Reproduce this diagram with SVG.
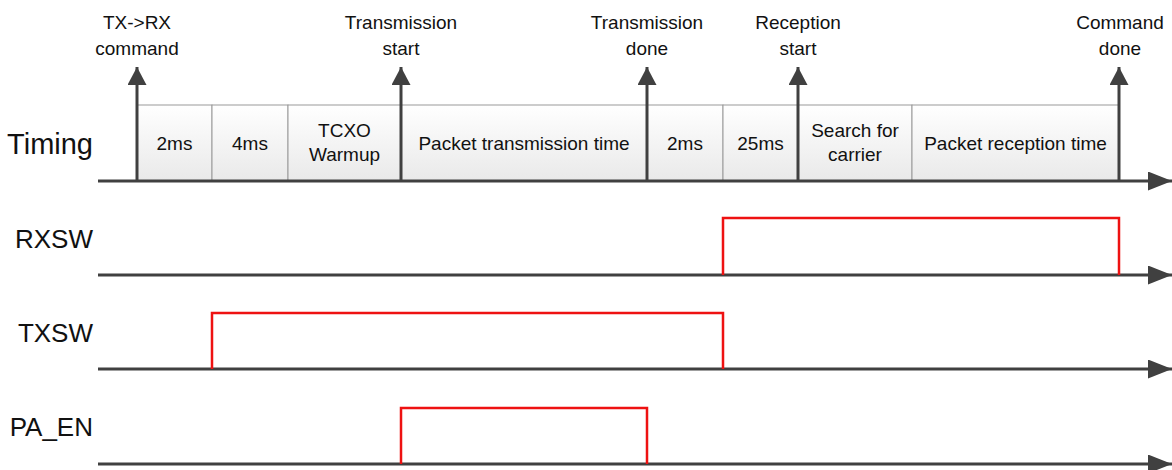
<svg xmlns="http://www.w3.org/2000/svg" width="1172" height="470" viewBox="0 0 1172 470">
<defs>
<linearGradient id="boxg" x1="0" y1="0" x2="0" y2="1">
<stop offset="0" stop-color="#ffffff"/>
<stop offset="1" stop-color="#e9e9e9"/>
</linearGradient>
<marker id="ah" markerUnits="userSpaceOnUse" markerWidth="26" markerHeight="20" refX="24" refY="9.5" orient="auto">
<path d="M0,0 L24,9.5 L0,19 Z" fill="#404040"/>
</marker>
<marker id="au" markerUnits="userSpaceOnUse" markerWidth="20" markerHeight="20" refX="18" refY="9.5" orient="auto">
<path d="M0,0 L18,9.5 L0,19 Z" fill="#404040"/>
</marker>
</defs>
<style>
text{font-family:"Liberation Sans",Arial,sans-serif;fill:#111}
.lbl{font-size:19px;text-anchor:middle}
.sig{font-size:26px;text-anchor:end}
.cell{fill:url(#boxg);stroke:#9a9a9a;stroke-width:1}
.axis{stroke:#404040;stroke-width:3;fill:none}
.red{stroke:#ee1111;stroke-width:2.5;fill:none}
</style>
<rect width="1172" height="470" fill="#ffffff"/>

<g id="timing-cells">
<rect class="cell" x="137" y="105" width="75" height="76"/>
<rect class="cell" x="212" y="105" width="76" height="76"/>
<rect class="cell" x="288" y="105" width="113" height="76"/>
<rect class="cell" x="401" y="105" width="246" height="76"/>
<rect class="cell" x="647" y="105" width="76" height="76"/>
<rect class="cell" x="723" y="105" width="75" height="76"/>
<rect class="cell" x="798" y="105" width="114" height="76"/>
<rect class="cell" x="912" y="105" width="207" height="76"/>
<text class="lbl" x="174.5" y="150">2ms</text>
<text class="lbl" x="250" y="150">4ms</text>
<text class="lbl" x="344.5" y="137">TCXO</text>
<text class="lbl" x="344.5" y="161">Warmup</text>
<text class="lbl" x="524" y="150">Packet transmission time</text>
<text class="lbl" x="685" y="150">2ms</text>
<text class="lbl" x="760.5" y="150">25ms</text>
<text class="lbl" x="855" y="137">Search for</text>
<text class="lbl" x="855" y="161">carrier</text>
<text class="lbl" x="1015.5" y="150">Packet reception time</text>
</g>

<g id="signal-labels">
<text class="sig" x="93" y="154" style="font-size:29px">Timing</text>
<text class="sig" x="93" y="248">RXSW</text>
<text class="sig" x="93" y="342">TXSW</text>
<text class="sig" x="93" y="436">PA_EN</text>
</g>

<g id="event-labels">
<text class="lbl" x="137" y="29">TX-&gt;RX</text>
<text class="lbl" x="137" y="55">command</text>
<text class="lbl" x="401" y="29">Transmission</text>
<text class="lbl" x="401" y="55">start</text>
<text class="lbl" x="647" y="29">Transmission</text>
<text class="lbl" x="647" y="55">done</text>
<text class="lbl" x="798" y="29">Reception</text>
<text class="lbl" x="798" y="55">start</text>
<text class="lbl" x="1120" y="29">Command</text>
<text class="lbl" x="1120" y="55">done</text>
</g>

<g id="connectors">
<line class="axis" x1="98" y1="181" x2="1172" y2="181" marker-end="url(#ah)"/>
<line class="axis" x1="98" y1="275" x2="1172" y2="275" marker-end="url(#ah)"/>
<line class="axis" x1="98" y1="369" x2="1172" y2="369" marker-end="url(#ah)"/>
<line class="axis" x1="98" y1="464" x2="1172" y2="464" marker-end="url(#ah)"/>
<line class="axis" x1="137" y1="182" x2="137" y2="67" marker-end="url(#au)"/>
<line class="axis" x1="401" y1="182" x2="401" y2="67" marker-end="url(#au)"/>
<line class="axis" x1="647" y1="182" x2="647" y2="67" marker-end="url(#au)"/>
<line class="axis" x1="798" y1="182" x2="798" y2="67" marker-end="url(#au)"/>
<line class="axis" x1="1119" y1="182" x2="1119" y2="67" marker-end="url(#au)"/>
<polyline class="red" points="723,275 723,218 1119,218 1119,275"/>
<polyline class="red" points="212,369 212,313 723,313 723,369"/>
<polyline class="red" points="401,464 401,408 647,408 647,464"/>
</g>
</svg>
